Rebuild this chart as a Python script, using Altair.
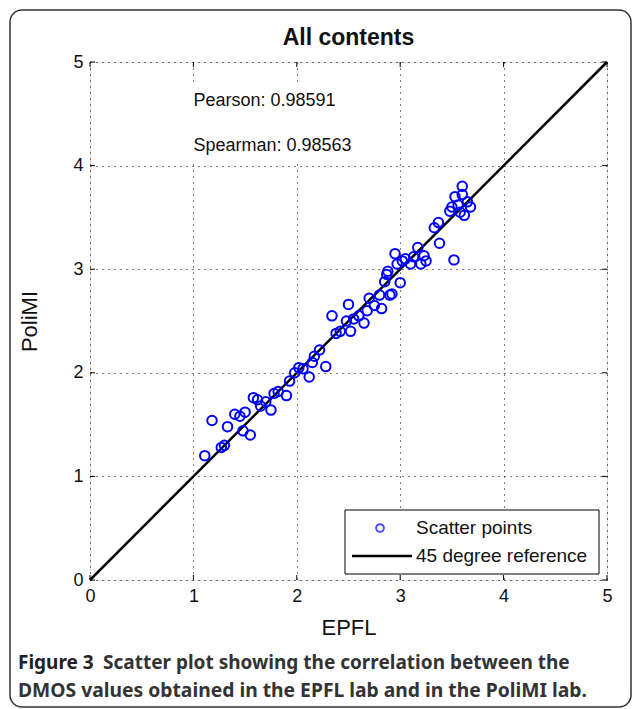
import altair as alt
import pandas as pd

epfl = [1.11, 1.18, 1.27, 1.30, 1.33, 1.40, 1.45, 1.48, 1.50, 1.55, 1.58, 1.62, 1.65, 1.70,
        1.75, 1.78, 1.82, 1.90, 1.93, 1.98, 2.02, 2.06, 2.12, 2.15, 2.17, 2.22, 2.28, 2.34,
        2.38, 2.42, 2.48, 2.50, 2.52, 2.55, 2.60, 2.65, 2.68, 2.70, 2.75, 2.80, 2.82, 2.85,
        2.87, 2.88, 2.90, 2.92, 2.95, 2.97, 3.00, 3.02, 3.05, 3.10, 3.13, 3.17, 3.20, 3.23,
        3.25, 3.33, 3.37, 3.38, 3.48, 3.50, 3.52, 3.53, 3.56, 3.58, 3.60, 3.62, 3.65, 3.68,
        3.60]
polimi = [1.20, 1.54, 1.28, 1.30, 1.48, 1.60, 1.58, 1.44, 1.62, 1.40, 1.76, 1.74, 1.68, 1.72,
          1.64, 1.80, 1.82, 1.78, 1.92, 2.00, 2.05, 2.04, 1.96, 2.10, 2.16, 2.22, 2.06, 2.55,
          2.38, 2.40, 2.50, 2.66, 2.40, 2.52, 2.55, 2.48, 2.60, 2.72, 2.65, 2.75, 2.62, 2.88,
          2.95, 2.98, 2.75, 2.76, 3.15, 3.05, 2.87, 3.08, 3.10, 3.05, 3.12, 3.21, 3.05, 3.13,
          3.08, 3.40, 3.45, 3.25, 3.56, 3.60, 3.09, 3.70, 3.62, 3.55, 3.80, 3.52, 3.65, 3.60,
          3.72]
ref_line = [0, 5]
ticks = [0, 1, 2, 3, 4, 5]
stats_text = ["Pearson: 0.98591", "Spearman: 0.98563"]
stats_y = [4.62, 4.19]
legend_labels = ["Scatter points", "45 degree reference"]
title_text = "All contents"
caption_bold = "Figure 3"
caption_line1 = "Scatter plot showing the correlation between the"
caption_line2 = "DMOS values obtained in the EPFL lab and in the PoliMI lab."

FONT = "Liberation Sans"
W, H = 517, 518

pts = pd.DataFrame({"EPFL": epfl, "PoliMI": polimi})
diag = pd.DataFrame({"EPFL": ref_line, "PoliMI": ref_line})
tk = pd.DataFrame({"t": ticks})
stats = pd.DataFrame({"x": [1.0, 1.0], "y": stats_y, "label": stats_text})
one = pd.DataFrame({"a": [1]})

xs = alt.Scale(domain=[0, 5], nice=False)
ys = alt.Scale(domain=[0, 5], nice=False)

common = dict(values=ticks, format="d", grid=True, gridDash=[1, 5], gridColor="#000",
              gridOpacity=1, tickSize=0, labelPadding=7, labelFontSize=18, labelFont=FONT,
              labelColor="#111", domain=False, titleFontSize=22, titleFont=FONT,
              titleFontWeight="normal", titleColor="#111", labelFlush=False)
xax = alt.Axis(titlePadding=12, **common)
yax = alt.Axis(titlePadding=31, **common)

points = alt.Chart(pts).mark_point(shape="circle", filled=False, color="#0000ff", size=90,
                                   strokeWidth=2, opacity=1).encode(
    x=alt.X("EPFL:Q", scale=xs, axis=xax, title="EPFL"),
    y=alt.Y("PoliMI:Q", scale=ys, axis=yax, title="PoliMI"),
)

line = alt.Chart(diag).mark_line(color="#000", strokeWidth=2.5).encode(
    x=alt.X("EPFL:Q", scale=xs), y=alt.Y("PoliMI:Q", scale=ys))

# inward ticks on all four sides
tick_b = alt.Chart(tk).mark_rule(color="#000").encode(
    x=alt.X("t:Q", scale=xs), y=alt.value(H), y2=alt.value(H - 5))
tick_t = alt.Chart(tk).mark_rule(color="#000").encode(
    x=alt.X("t:Q", scale=xs), y=alt.value(0), y2=alt.value(5))
tick_l = alt.Chart(tk).mark_rule(color="#000").encode(
    y=alt.Y("t:Q", scale=ys), x=alt.value(0), x2=alt.value(5))
tick_r = alt.Chart(tk).mark_rule(color="#000").encode(
    y=alt.Y("t:Q", scale=ys), x=alt.value(W), x2=alt.value(W - 5))

stats_bg = alt.Chart(one).mark_rect(fill="white").encode(
    x=alt.value(98), x2=alt.value(285), y=alt.value(22), y2=alt.value(100))
stats_txt = alt.Chart(stats).mark_text(align="left", baseline="middle", font=FONT,
                                       fontSize=18, color="#111").encode(
    x=alt.X("x:Q", scale=xs), y=alt.Y("y:Q", scale=ys), text="label:N")

# legend box
leg_box = alt.Chart(one).mark_rect(fill="white", stroke="#000", strokeWidth=1).encode(
    x=alt.value(255), x2=alt.value(509), y=alt.value(448), y2=alt.value(512))
leg_pt = alt.Chart(one).mark_point(shape="circle", filled=False, color="#0000ff", size=60,
                                   strokeWidth=2).encode(x=alt.value(290), y=alt.value(466))
leg_ln = alt.Chart(one).mark_rule(color="#000", strokeWidth=2.5).encode(
    x=alt.value(262), x2=alt.value(322), y=alt.value(494))
leg_txt = alt.Chart(pd.DataFrame({"label": legend_labels, "yy": [466, 494]})).mark_text(
    align="left", baseline="middle", font=FONT, fontSize=19, color="#111").encode(
    x=alt.value(326), y=alt.Y("yy:Q", scale=None), text="label:N")

# title
title = alt.Chart(pd.DataFrame({"t": [title_text]})).mark_text(
    align="center", baseline="middle", font=FONT, fontSize=23, fontWeight="bold",
    color="#111").encode(x=alt.value(W / 2), y=alt.value(-24), text="t:N")

# figure frame and caption
frame = alt.Chart(one).mark_rect(fill=None, stroke="#333", strokeWidth=1.5, cornerRadius=12,
                                 clip=False).encode(
    x=alt.value(-80), x2=alt.value(541), y=alt.value(-52), y2=alt.value(645))
cap1a = alt.Chart(pd.DataFrame({"t": [caption_bold]})).mark_text(
    align="left", baseline="middle", font="Noto Sans", fontSize=19, fontWeight="bold",
    color="#222").encode(x=alt.value(-72), y=alt.value(601), text="t:N")
cap1b = alt.Chart(pd.DataFrame({"t": [caption_line1]})).mark_text(
    align="left", baseline="middle", font="Noto Sans", fontSize=19, fontWeight="bold",
    color="#333").encode(x=alt.value(13), y=alt.value(601), text="t:N")
cap2 = alt.Chart(pd.DataFrame({"t": [caption_line2]})).mark_text(
    align="left", baseline="middle", font="Noto Sans", fontSize=19.3, fontWeight="bold",
    color="#333").encode(x=alt.value(-72), y=alt.value(629), text="t:N")

chart = alt.layer(
    frame, stats_bg, tick_b, tick_t, tick_l, tick_r, line, points, stats_txt,
    leg_box, leg_pt, leg_ln, leg_txt, title, cap1a, cap1b, cap2
).properties(
    width=W, height=H,
    autosize=alt.AutoSizeParams(type="none"),
    padding={"left": 90, "top": 62, "right": 26, "bottom": 129},
).configure_view(stroke="#000", strokeWidth=1.2).configure(background="white")

chart.save("out.html", embed_options={"renderer": "svg", "actions": False})
